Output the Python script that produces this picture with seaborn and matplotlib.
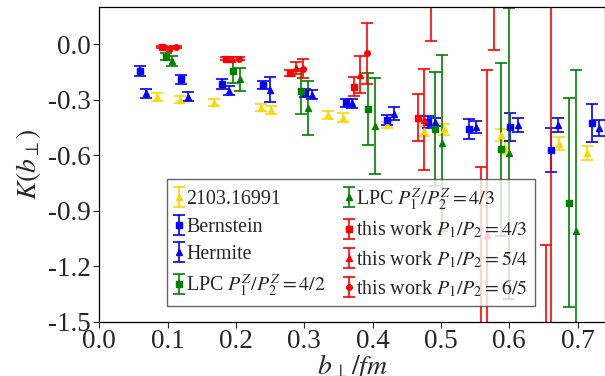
import numpy as np
import matplotlib
matplotlib.use("Agg")
import matplotlib.pyplot as plt
import seaborn as sns

# --- data: K(b_perp) estimates ---
# 2103.16991
ref_b   = [0.084, 0.118, 0.168, 0.237, 0.252, 0.335, 0.356, 0.421, 0.475, 0.505, 0.588, 0.594, 0.672, 0.713]
ref_k   = [-0.284, -0.300, -0.315, -0.342, -0.355, -0.384, -0.397, -0.436, -0.469, -0.460, -0.491, -0.560, -0.538, -0.590]
ref_e   = [0.020, 0.019, 0.020, 0.020, 0.020, 0.022, 0.023, 0.015, 0.025, 0.030, 0.034, 0.035, 0.036, 0.038]

# Bernstein
bern_b  = [0.060, 0.120, 0.180, 0.240, 0.301, 0.361, 0.421, 0.481, 0.541, 0.601, 0.661, 0.721]
bern_k  = [-0.143, -0.190, -0.215, -0.219, -0.264, -0.317, -0.409, -0.420, -0.460, -0.447, -0.569, -0.427]
bern_e  = [0.027, 0.025, 0.025, 0.023, 0.020, 0.023, 0.026, 0.030, 0.054, 0.077, 0.119, 0.104]

# Hermite
herm_b  = [0.069, 0.130, 0.190, 0.250, 0.311, 0.370, 0.431, 0.491, 0.551, 0.612, 0.671, 0.731]
herm_k  = [-0.266, -0.283, -0.252, -0.245, -0.273, -0.320, -0.375, -0.420, -0.447, -0.436, -0.438, -0.454]
herm_e  = [0.022, 0.024, 0.024, 0.069, 0.025, 0.024, 0.034, 0.023, 0.032, 0.036, 0.037, 0.044]

# LPC P1^Z/P2^Z = 4/2
lpc42_b = [0.098, 0.196, 0.295, 0.393, 0.491, 0.588, 0.687]
lpc42_k = [-0.067, -0.147, -0.255, -0.348, -0.458, -0.567, -0.857]
lpc42_e = [0.020, 0.062, 0.122, 0.195, 0.310, 0.467, 0.565]

# LPC P1^Z/P2^Z = 4/3
lpc43_b = [0.107, 0.206, 0.305, 0.403, 0.501, 0.600, 0.697]
lpc43_k = [-0.092, -0.190, -0.346, -0.442, -0.533, -0.590, -1.009]
lpc43_e = [0.027, 0.064, 0.147, 0.260, 0.477, 0.785, 0.870]

# this work P1/P2 = 4/3
tw43_b  = [0.092, 0.186, 0.279, 0.372, 0.466, 0.559, 0.653]
tw43_k  = [-0.016, -0.078, -0.156, -0.230, -0.397, -1.65, -1.90]
tw43_e  = [0.006, 0.008, 0.017, 0.052, 0.128, 0.987, 0.815]

# this work P1/P2 = 5/4
tw54_b  = [0.102, 0.194, 0.288, 0.382, 0.475, 0.568, 0.661]
tw54_k  = [-0.020, -0.078, -0.130, -0.165, -0.409, -1.030, -1.70]
tw54_e  = [0.006, 0.008, 0.033, 0.100, 0.273, 0.891, 2.00]

# this work P1/P2 = 6/5
tw65_b  = [0.112, 0.204, 0.298, 0.392, 0.485, 0.578]
tw65_k  = [-0.016, -0.078, -0.132, -0.049, 0.300, 0.400]
tw65_e  = [0.005, 0.008, 0.052, 0.164, 0.282, 0.430]

sns.set_theme(style="ticks")
plt.rcParams["font.family"] = ["Liberation Serif", "DejaVu Serif"]
plt.rcParams["mathtext.fontset"] = "stix"
plt.rcParams["axes.unicode_minus"] = True

fig = plt.figure(figsize=(6.05, 3.76), dpi=100)
ax = fig.add_axes([0.1641, 0.1444, 0.8359, 0.8362])

common = dict(capsize=4, elinewidth=1.2, capthick=1.2, linestyle="none")

series = [
    (ref_b, ref_k, ref_e, "gold", "^", "2103.16991"),
    (bern_b, bern_k, bern_e, "blue", "s", "Bernstein"),
    (herm_b, herm_k, herm_e, "blue", "^", "Hermite"),
    (lpc42_b, lpc42_k, lpc42_e, "green", "s", r"LPC $P_1^Z/P_2^Z=4/2$"),
    (lpc43_b, lpc43_k, lpc43_e, "green", "^", r"LPC $P_1^Z/P_2^Z=4/3$"),
    (tw43_b, tw43_k, tw43_e, "red", "s", r"this work $P_1/P_2=4/3$"),
    (tw54_b, tw54_k, tw54_e, "red", "^", r"this work $P_1/P_2=5/4$"),
    (tw65_b, tw65_k, tw65_e, "red", "o", r"this work $P_1/P_2=6/5$"),
]

for b, k, e, c, m, lab in series:
    ms = 4 if m == "o" else 5
    ax.errorbar(b, k, yerr=e, color=c, marker=m, markersize=ms, label=lab, **common)

ax.set_xlim(0, 0.74)
ax.set_ylim(-1.5, 0.2)
ax.set_xticks(np.arange(0, 0.71, 0.1))
ax.set_yticks([0.0, -0.3, -0.6, -0.9, -1.2, -1.5])
ax.xaxis.set_major_formatter(matplotlib.ticker.FormatStrFormatter("%.1f"))
ax.yaxis.set_major_formatter(matplotlib.ticker.FormatStrFormatter("%.1f"))
ax.tick_params(labelsize=19.5, length=4, width=0.8, direction="out", pad=2)
ax.tick_params(axis="x", pad=1)
for s in ax.spines.values():
    s.set_color("black")
    s.set_linewidth(0.9)

ax.set_xlabel(r"$b_\perp/fm$", fontsize=20, labelpad=-1.5)
ax.set_ylabel(r"$K(b_\perp)$", fontsize=20, labelpad=4)

leg = ax.legend(ncol=2, loc="lower left", bbox_to_anchor=(0.1345, 0.05), borderaxespad=0,
                fontsize=14.4, fancybox=False, framealpha=0.8, edgecolor="0.25",
                handlelength=0.5, handletextpad=0.1, columnspacing=0.9,
                labelspacing=0.42, borderpad=0.35)
leg.get_frame().set_linewidth(1.0)

fig.savefig("out.png", dpi=100)
